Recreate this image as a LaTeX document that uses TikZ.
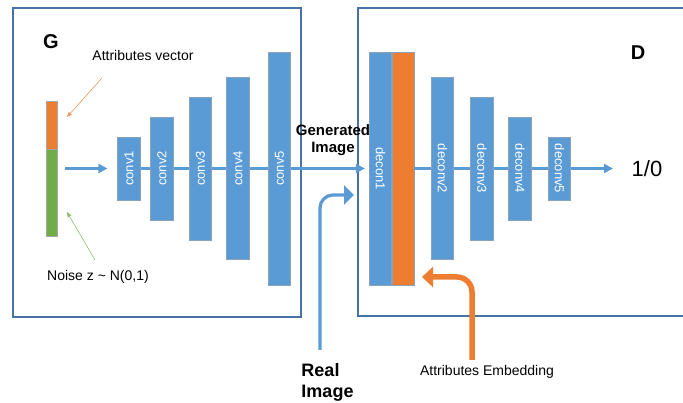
\documentclass[tikz,border=0pt]{standalone}
\usepackage{fontspec}
\setmainfont{Liberation Sans}
\usetikzlibrary{arrows.meta}
\definecolor{lblue}{HTML}{5B9BD5}
\definecolor{lorange}{HTML}{ED7D31}
\definecolor{lgreen}{HTML}{70AD47}
\definecolor{frameblue}{HTML}{4672A4}
\definecolor{edgegray}{HTML}{8AA2BE}

\begin{document}
\begin{tikzpicture}[x=1pt,y=-1pt,
  layer/.style={draw=edgegray,line width=0.6pt,fill=lblue,text=white,inner sep=0pt,
    minimum width=22.5pt,font=\fontsize{13}{15}\selectfont},
  bar/.style={draw=gray!70,line width=0.5pt,inner sep=0pt,minimum width=11pt},
  frame/.style={draw=frameblue,line width=2.3pt},
  flow/.style={draw=lblue,line width=2.4pt},
  flowtip/.style={flow,-{Triangle[length=9pt,width=9pt]}},
  thin/.style={line width=0.5pt,-{Triangle[length=5pt,width=4pt]}},
  big/.style={font=\fontsize{18}{21.6}\selectfont\bfseries},
  lab/.style={font=\fontsize{14}{16.8}\selectfont}]
\useasboundingbox (0,0) rectangle (683,403);

\draw[frame] (13,8) rectangle (301,317);
\draw[frame] (686,8) -- (358,8) -- (358,316) -- (686,316);

\node[big,font=\fontsize{20}{24}\selectfont\bfseries] (g) at (51,42) {G};
\node[big,font=\fontsize{20}{24}\selectfont\bfseries] (d) at (638,53) {D};

\node[bar,fill=lorange,minimum height=48pt] (av1) at (51.5,125) {};
\node[bar,fill=lgreen,minimum height=87pt] (nz1) at (51.5,192.5) {};
\node[lab] (av) at (143,55) {Attributes vector};
\node[lab] (nz) at (98,277) {Noise z \textasciitilde{} N(0,1)};
\coordinate (avs) at (102,78);
\coordinate (avt) at (67,117);
\coordinate (nzs) at (95,260);
\coordinate (nzt) at (67,212);
\draw[thin,draw=lorange!80,fill=lorange] (avs) -- (avt);
\draw[thin,draw=lgreen!80,fill=lgreen] (nzs) -- (nzt);

\node[layer,minimum height=63pt] (c1) at (129,168.5) {\rotatebox{90}{conv1}};
\node[layer,minimum height=103pt] (c2) at (162,168.5) {\rotatebox{90}{conv2}};
\node[layer,minimum height=143pt] (c3) at (200.5,168.5) {\rotatebox{90}{conv3}};
\node[layer,minimum height=182pt] (c4) at (238,168.5) {\rotatebox{90}{conv4}};
\node[layer,minimum height=233pt] (c5) at (279.5,168.5) {\rotatebox{90}{conv5}};

\node[layer,minimum height=233pt] (dc1) at (380.5,168.5) {\rotatebox{-90}{decon1}};
\node[layer,fill=lorange,minimum height=233pt,minimum width=22pt] (emb) at (403,168.5) {};
\node[layer,minimum height=182pt] (dc2) at (442.5,168.5) {\rotatebox{-90}{deconv2}};
\node[layer,minimum height=143pt] (dc3) at (482,168.5) {\rotatebox{-90}{deconv3}};
\node[layer,minimum height=103pt] (dc4) at (520,168.5) {\rotatebox{-90}{deconv4}};
\node[layer,minimum height=63pt] (dc5) at (559.5,168.5) {\rotatebox{-90}{deconv5}};

\coordinate (zin) at (65,168.5);
\coordinate (out) at (613,168.5);
\node[font=\fontsize{22}{26}\selectfont] (res) at (647,169) {1/0};

\draw[flowtip,shorten >=10pt] (zin) -- (c1);
\draw[flow] (c1) -- (c2);
\draw[flow] (c2) -- (c3);
\draw[flow] (c3) -- (c4);
\draw[flow] (c4) -- (c5);
\draw[flowtip,shorten >=4pt] (c5) -- (dc1);
\draw[flow] (emb) -- (dc2);
\draw[flow] (dc2) -- (dc3);
\draw[flow] (dc3) -- (dc4);
\draw[flow] (dc4) -- (dc5);
\draw[flowtip] (dc5) -- (out);

\node[font=\fontsize{15}{16.5}\selectfont\bfseries,align=center] (gen) at (333,140) {Generated\\Image};

\node[big,align=left] (real) at (327.5,382.5) {Real\\Image};
\coordinate (ris) at (320,350);
\coordinate (rit) at (354,195);
\draw[lblue,line width=3.2pt,rounded corners=13pt,-{Triangle[length=10pt,width=19pt]}] (ris) |- (rit);

\node[lab] (ae) at (487,372) {Attributes Embedding};
\coordinate (aes) at (472,360);
\coordinate (aet) at (422,277);
\draw[lorange,line width=5.5pt,rounded corners=15pt,-{Triangle[length=11pt,width=20pt]}] (aes) |- (aet);
\end{tikzpicture}
\end{document}
